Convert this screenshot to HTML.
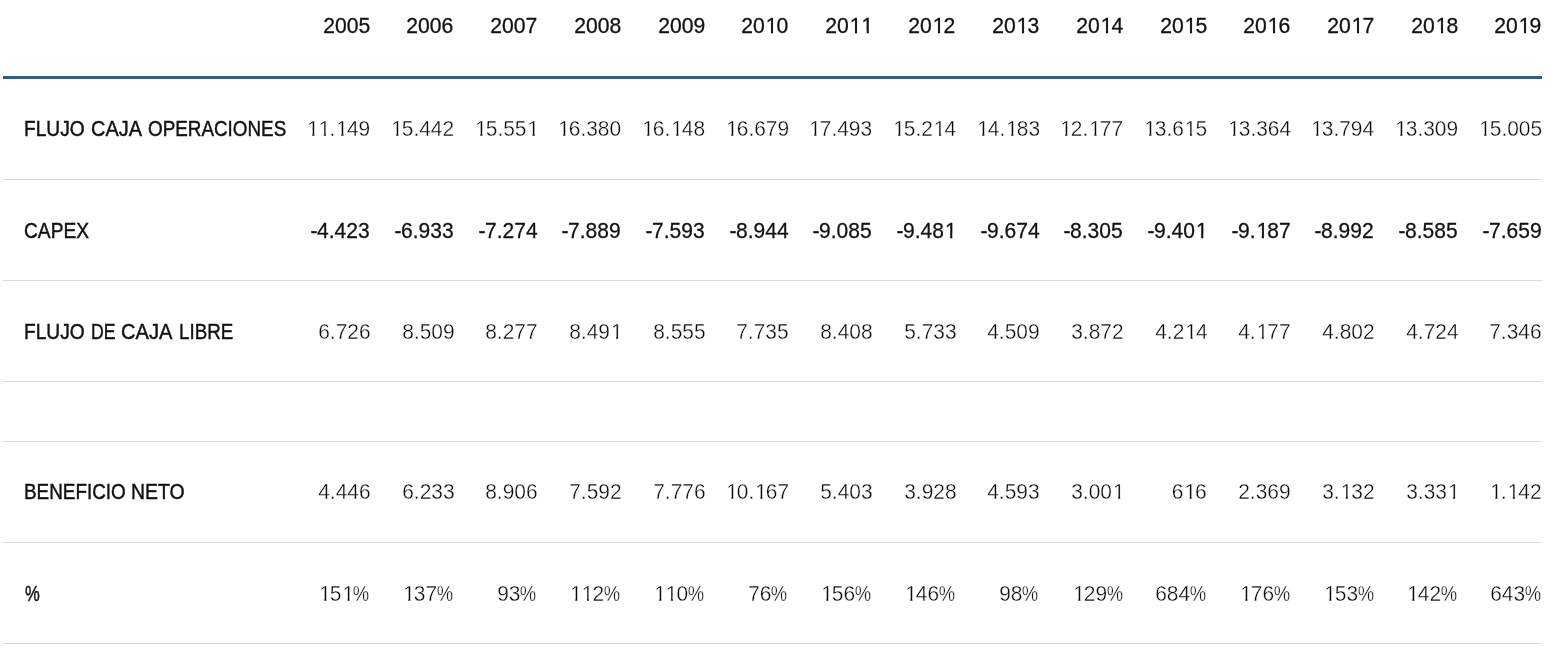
<!DOCTYPE html>
<html lang="es">
<head>
<meta charset="utf-8">
<title>Flujo de caja</title>
<style>
html,body{margin:0;padding:0;background:#fff;}
body{width:1557px;height:651px;overflow:hidden;font-family:"Liberation Sans",sans-serif;font-size:22.6px;line-height:26px;color:#111;}
table{position:absolute;left:3px;top:0;width:1539px;border-collapse:collapse;table-layout:fixed;will-change:transform;}
col.lab{width:283.8px;}
th,td{padding:0;margin:0;white-space:nowrap;overflow:visible;font-weight:normal;}
thead th{height:76px;border-bottom:3px solid #23628f;text-align:right;vertical-align:top;}
thead th span{display:inline-block;position:relative;top:13px;right:0.4px;color:#111;-webkit-text-stroke:0.3px #111;transform:scaleX(0.936);transform-origin:100% 50%;}
tbody td{height:100px;border-bottom:1px solid #dbdbdb;text-align:right;vertical-align:top;}
tbody tr.gap td{height:59px;}
tbody td.l{text-align:left;position:relative;}
tbody td span{display:inline-block;position:relative;top:37px;}
td.l span{position:absolute;color:#111;-webkit-text-stroke:0.45px #111;transform-origin:0 50%;}
tr.r1 td span{top:37px;}
tr.r2 td span{top:38px;}
tr.r3 td span{top:38.2px;}
tr.r4 td span{top:37px;}
tr.r5 td span{top:38.2px;}
span i{display:inline-block;font-style:normal;transform-origin:100% 50%;}
i.o{position:relative;left:1.1px;clip-path:polygon(0 0,100% 0,100% 17.4px,7.8px 17.4px,7.8px 100%,5.55px 100%,5.55px 17.4px,0 17.4px);}
i.p{transform:scaleX(0.88);margin-left:-2.9px;margin-right:1.1px;}
i.m{transform:scaleX(1.0);margin-left:0px;margin-right:-0.4px;}
td.d span{color:#0a0a0a;-webkit-text-stroke:0.35px #fff;right:0px;transform:scaleX(0.926);transform-origin:100% 50%;}
td.b span{color:#111;-webkit-text-stroke:0.28px #111;right:0.4px;transform:scaleX(0.93);transform-origin:100% 50%;}
.w0{left:21.03px;transform:scaleX(0.8477);}
.w1{left:87.62px;transform:scaleX(0.8833);}
.w2{left:145.37px;transform:scaleX(0.8341);}
.w3{left:21.00px;transform:scaleX(0.8483);}
.w4{left:21.03px;transform:scaleX(0.8477);}
.w5{left:88.23px;transform:scaleX(0.7829);}
.w6{left:118.21px;transform:scaleX(0.8895);}
.w7{left:176.45px;transform:scaleX(0.8302);}
.w8{left:21.05px;transform:scaleX(0.8360);}
.w9{left:128.41px;transform:scaleX(0.8600);}
.w10{left:21.63px;transform:scaleX(0.7368);}
</style>
</head>
<body>
<table>
<colgroup><col class="lab"><col><col><col><col><col><col><col><col><col><col><col><col><col><col><col></colgroup>
<thead><tr><th></th>
<th><span>2005</span></th>
<th><span>2006</span></th>
<th><span>2007</span></th>
<th><span>2008</span></th>
<th><span>2009</span></th>
<th><span>20<i class="o">1</i>0</span></th>
<th><span>20<i class="o">1</i><i class="o">1</i></span></th>
<th><span>20<i class="o">1</i>2</span></th>
<th><span>20<i class="o">1</i>3</span></th>
<th><span>20<i class="o">1</i>4</span></th>
<th><span>20<i class="o">1</i>5</span></th>
<th><span>20<i class="o">1</i>6</span></th>
<th><span>20<i class="o">1</i>7</span></th>
<th><span>20<i class="o">1</i>8</span></th>
<th><span>20<i class="o">1</i>9</span></th>
</tr></thead>
<tbody>
<tr class="r1"><td class="l"><span class="w0">FLUJO</span> <span class="w1">CAJA</span> <span class="w2">OPERACIONES</span></td>
<td class="d"><span><i class="o">1</i><i class="o">1</i>.<i class="o">1</i>49</span></td>
<td class="d"><span><i class="o">1</i>5.442</span></td>
<td class="d"><span><i class="o">1</i>5.55<i class="o">1</i></span></td>
<td class="d"><span><i class="o">1</i>6.380</span></td>
<td class="d"><span><i class="o">1</i>6.<i class="o">1</i>48</span></td>
<td class="d"><span><i class="o">1</i>6.679</span></td>
<td class="d"><span><i class="o">1</i>7.493</span></td>
<td class="d"><span><i class="o">1</i>5.2<i class="o">1</i>4</span></td>
<td class="d"><span><i class="o">1</i>4.<i class="o">1</i>83</span></td>
<td class="d"><span><i class="o">1</i>2.<i class="o">1</i>77</span></td>
<td class="d"><span><i class="o">1</i>3.6<i class="o">1</i>5</span></td>
<td class="d"><span><i class="o">1</i>3.364</span></td>
<td class="d"><span><i class="o">1</i>3.794</span></td>
<td class="d"><span><i class="o">1</i>3.309</span></td>
<td class="d"><span><i class="o">1</i>5.005</span></td>
</tr>
<tr class="r2"><td class="l"><span class="w3">CAPEX</span></td>
<td class="b"><span><i class="m">-</i>4.423</span></td>
<td class="b"><span><i class="m">-</i>6.933</span></td>
<td class="b"><span><i class="m">-</i>7.274</span></td>
<td class="b"><span><i class="m">-</i>7.889</span></td>
<td class="b"><span><i class="m">-</i>7.593</span></td>
<td class="b"><span><i class="m">-</i>8.944</span></td>
<td class="b"><span><i class="m">-</i>9.085</span></td>
<td class="b"><span><i class="m">-</i>9.48<i class="o">1</i></span></td>
<td class="b"><span><i class="m">-</i>9.674</span></td>
<td class="b"><span><i class="m">-</i>8.305</span></td>
<td class="b"><span><i class="m">-</i>9.40<i class="o">1</i></span></td>
<td class="b"><span><i class="m">-</i>9.<i class="o">1</i>87</span></td>
<td class="b"><span><i class="m">-</i>8.992</span></td>
<td class="b"><span><i class="m">-</i>8.585</span></td>
<td class="b"><span><i class="m">-</i>7.659</span></td>
</tr>
<tr class="r3"><td class="l"><span class="w4">FLUJO</span> <span class="w5">DE</span> <span class="w6">CAJA</span> <span class="w7">LIBRE</span></td>
<td class="d"><span>6.726</span></td>
<td class="d"><span>8.509</span></td>
<td class="d"><span>8.277</span></td>
<td class="d"><span>8.49<i class="o">1</i></span></td>
<td class="d"><span>8.555</span></td>
<td class="d"><span>7.735</span></td>
<td class="d"><span>8.408</span></td>
<td class="d"><span>5.733</span></td>
<td class="d"><span>4.509</span></td>
<td class="d"><span>3.872</span></td>
<td class="d"><span>4.2<i class="o">1</i>4</span></td>
<td class="d"><span>4.<i class="o">1</i>77</span></td>
<td class="d"><span>4.802</span></td>
<td class="d"><span>4.724</span></td>
<td class="d"><span>7.346</span></td>
</tr>
<tr class="gap"><td class="l"></td><td></td><td></td><td></td><td></td><td></td><td></td><td></td><td></td><td></td><td></td><td></td><td></td><td></td><td></td><td></td></tr>
<tr class="r4"><td class="l"><span class="w8">BENEFICIO</span> <span class="w9">NETO</span></td>
<td class="d"><span>4.446</span></td>
<td class="d"><span>6.233</span></td>
<td class="d"><span>8.906</span></td>
<td class="d"><span>7.592</span></td>
<td class="d"><span>7.776</span></td>
<td class="d"><span><i class="o">1</i>0.<i class="o">1</i>67</span></td>
<td class="d"><span>5.403</span></td>
<td class="d"><span>3.928</span></td>
<td class="d"><span>4.593</span></td>
<td class="d"><span>3.00<i class="o">1</i></span></td>
<td class="d"><span>6<i class="o">1</i>6</span></td>
<td class="d"><span>2.369</span></td>
<td class="d"><span>3.<i class="o">1</i>32</span></td>
<td class="d"><span>3.33<i class="o">1</i></span></td>
<td class="d"><span><i class="o">1</i>.<i class="o">1</i>42</span></td>
</tr>
<tr class="r5"><td class="l"><span class="w10">%</span></td>
<td class="d"><span><i class="o">1</i>5<i class="o">1</i><i class="p">%</i></span></td>
<td class="d"><span><i class="o">1</i>37<i class="p">%</i></span></td>
<td class="d"><span>93<i class="p">%</i></span></td>
<td class="d"><span><i class="o">1</i><i class="o">1</i>2<i class="p">%</i></span></td>
<td class="d"><span><i class="o">1</i><i class="o">1</i>0<i class="p">%</i></span></td>
<td class="d"><span>76<i class="p">%</i></span></td>
<td class="d"><span><i class="o">1</i>56<i class="p">%</i></span></td>
<td class="d"><span><i class="o">1</i>46<i class="p">%</i></span></td>
<td class="d"><span>98<i class="p">%</i></span></td>
<td class="d"><span><i class="o">1</i>29<i class="p">%</i></span></td>
<td class="d"><span>684<i class="p">%</i></span></td>
<td class="d"><span><i class="o">1</i>76<i class="p">%</i></span></td>
<td class="d"><span><i class="o">1</i>53<i class="p">%</i></span></td>
<td class="d"><span><i class="o">1</i>42<i class="p">%</i></span></td>
<td class="d"><span>643<i class="p">%</i></span></td>
</tr>
</tbody></table></body></html>
